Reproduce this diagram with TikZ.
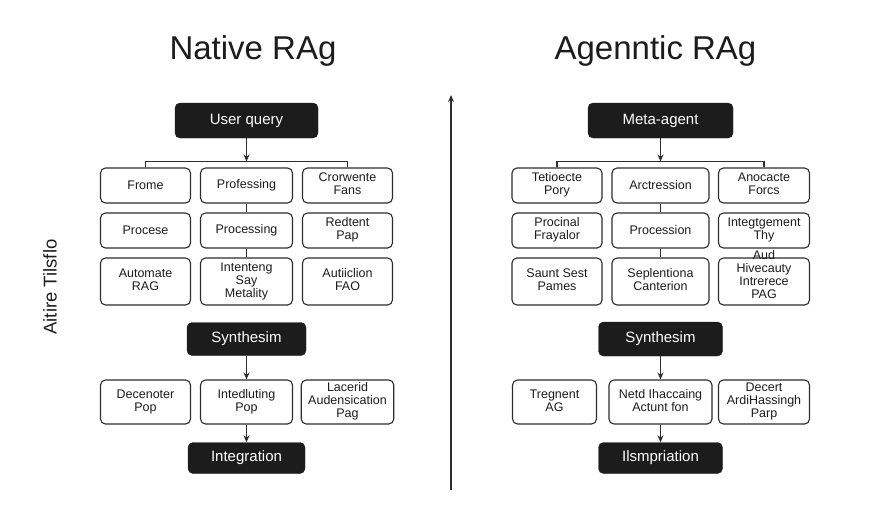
\documentclass[tikz,border=0pt]{standalone}
\usepackage{fontspec}
\setmainfont{Liberation Sans}
\usepackage{tikz}
\usetikzlibrary{arrows,arrows.meta,shapes,positioning}
\usepackage{xcolor}
\definecolor{dfdark}{RGB}{28,28,28}
\definecolor{dfline}{RGB}{45,45,45}
\tikzstyle{darkbox} = [rectangle, rounded corners=5pt, minimum height=34pt, text centered, draw=dfdark, fill=dfdark, text=white, font=\fontsize{15}{17}\selectfont]
\tikzstyle{lightbox} = [rectangle, rounded corners=5pt, minimum width=90pt, minimum height=35pt, text centered, draw=dfline, line width=1.1pt, fill=white, text=dfdark, inner sep=1pt, font=\fontsize{12.5}{13}\selectfont]
\tikzstyle{arrow} = [line width=1.2pt,->,>={Stealth[length=7pt,width=6pt]},color=dfline]
\tikzstyle{wire} = [line width=1.2pt,color=dfline]
\tikzstyle{heading} = [anchor=base, text=dfdark, font=\fontsize{33}{37}\selectfont]

\begin{document}
\begin{tikzpicture}[x=1pt, y=-1pt, node distance=101pt]
\useasboundingbox (0,0) rectangle (896,512);
% Titles
\node (nattitle) [heading] at (253,59) {Native RAg};
\node (agttitle) [heading] at (655.5,59) {Agenntic RAg};
\node (sidelabel) [rotate=90, text=dfdark, font=\fontsize{18.5}{20}\selectfont] at (50,287) {Aitire Tilsflo};

% Native RAG
\node (natquery) [darkbox, minimum width=143pt, minimum height=35pt] at (246.5,120.5) {User query};

\node (nat1b) [lightbox, below of=natquery, node distance=65pt, minimum width=92pt] {Professing};
\node (nat1a) [lightbox, left of=nat1b] {Frome};
\node (nat1c) [lightbox, right of=nat1b] {
\begin{tabular}{c}
Crorwente\\
Fans
\end{tabular}
};

\node (nat2b) [lightbox, below of=nat1b, node distance=45pt, minimum width=92pt] {Processing};
\node (nat2a) [lightbox, left of=nat2b] {Procese};
\node (nat2c) [lightbox, right of=nat2b] {
\begin{tabular}{c}
Redtent\\
Pap
\end{tabular}
};

\node (nat3b) [lightbox, below of=nat2b, node distance=51pt, minimum width=92pt, minimum height=47pt] {
\begin{tabular}{c}
Intenteng\\
Say\\
Metality
\end{tabular}
};
\node (nat3a) [lightbox, left of=nat3b, minimum height=47pt] {
\begin{tabular}{c}
Automate\\
RAG
\end{tabular}
};
\node (nat3c) [lightbox, right of=nat3b, minimum height=47pt] {
\begin{tabular}{c}
Autiiclion\\
FAO
\end{tabular}
};

\node (natsyn) [darkbox, below of=nat3b, node distance=57.5pt, minimum width=119pt, minimum height=33pt] {Synthesim};

\node (nat4b) [lightbox, below of=natsyn, node distance=63pt, minimum width=92pt, minimum height=44pt] {
\begin{tabular}{c}
Intedluting\\
Pop
\end{tabular}
};
\node (nat4a) [lightbox, left of=nat4b, minimum height=44pt] {
\begin{tabular}{c}
Decenoter\\
Pop
\end{tabular}
};
\node (nat4c) [lightbox, right of=nat4b, minimum height=44pt] {
\begin{tabular}{c}
Lacerid\\
Audensication\\
Pag
\end{tabular}
};

\node (natint) [darkbox, below of=nat4b, node distance=56pt, minimum width=117pt, minimum height=31pt] {Integration};

% Agentic RAG
\node (agtquery) [darkbox, minimum width=145pt, minimum height=35pt] at (660.5,120.5) {Meta-agent};

\node (agt1b) [lightbox, below of=agtquery, node distance=65pt, minimum width=97pt] {Arctression};
\node (agt1a) [lightbox, left of=agt1b, node distance=103.5pt] {
\begin{tabular}{c}
Tetioecte\\
Pory
\end{tabular}
};
\node (agt1c) [lightbox, right of=agt1b, node distance=103.5pt, minimum width=91pt] {
\begin{tabular}{c}
Anocacte\\
Forcs
\end{tabular}
};

\node (agt2b) [lightbox, below of=agt1b, node distance=45pt, minimum width=97pt] {Procession};
\node (agt2a) [lightbox, left of=agt2b, node distance=103.5pt] {
\begin{tabular}{c}
Procinal\\
Frayalor
\end{tabular}
};
\node (agt2c) [lightbox, right of=agt2b, node distance=103.5pt, minimum width=91pt] {
\begin{tabular}{c}
Integtgement\\
Thy
\end{tabular}
};

\node (agt3b) [lightbox, below of=agt2b, node distance=51pt, minimum width=97pt, minimum height=47pt] {
\begin{tabular}{c}
Seplentiona\\
Canterion
\end{tabular}
};
\node (agt3a) [lightbox, left of=agt3b, node distance=103.5pt, minimum height=47pt] {
\begin{tabular}{c}
Saunt Sest\\
Pames
\end{tabular}
};
\node (agt3c) [lightbox, right of=agt3b, node distance=103.5pt, minimum width=91pt, minimum height=47pt, text height=20pt, text depth=25pt] {
\begin{tabular}{c}
Aud\\
Hivecauty\\
Intrerece\\
PAG
\end{tabular}
};

\node (agtsyn) [darkbox, below of=agt3b, node distance=57.5pt, minimum width=124pt, minimum height=34pt] {Synthesim};

\node (agt4b) [lightbox, below of=agtsyn, node distance=63pt, minimum width=103pt, minimum height=44pt] {
\begin{tabular}{c}
Netd Ihaccaing\\
Actunt fon
\end{tabular}
};
\node (agt4a) [lightbox, left of=agt4b, node distance=106pt, minimum width=84pt, minimum height=44pt] {
\begin{tabular}{c}
Tregnent\\
AG
\end{tabular}
};
\node (agt4c) [lightbox, right of=agt4b, node distance=103.5pt, minimum width=91pt, minimum height=44pt] {
\begin{tabular}{c}
Decert\\
ArdiHassingh\\
Parp
\end{tabular}
};

\node (agtint) [darkbox, below of=agt4b, node distance=56pt, minimum width=124pt, minimum height=31pt] {Ilsmpriation};

% Branches
\coordinate [above=6pt of nat1b] (natbr);
\coordinate [above=6pt of agt1b] (agtbr);
\coordinate (septop) at (451,95);
\coordinate (sepbot) at (451,490);

% Arrows
\draw[arrow] (natquery) -- (natbr);
\draw[wire] (nat1a.north) |- (natbr) -| (nat1c.north);
\draw[wire] (nat1b) -- (nat2b);
\draw[wire] (nat2b) -- (nat3b);
\draw[arrow] (natsyn) -- (nat4b);
\draw[arrow] (nat4b) -- (natint);

\draw[arrow] (agtquery) -- (agtbr);
\draw[wire] (agt1a.north) |- (agtbr) -| (agt1c.north);
\draw[wire] (agt1b) -- (agt2b);
\draw[wire] (agt2b) -- (agt3b);
\draw[arrow] (agtsyn) -- (agt4b);
\draw[arrow] (agt4b) -- (agtint);

\draw[arrow] (sepbot) -- (septop);
\end{tikzpicture}
\end{document}
